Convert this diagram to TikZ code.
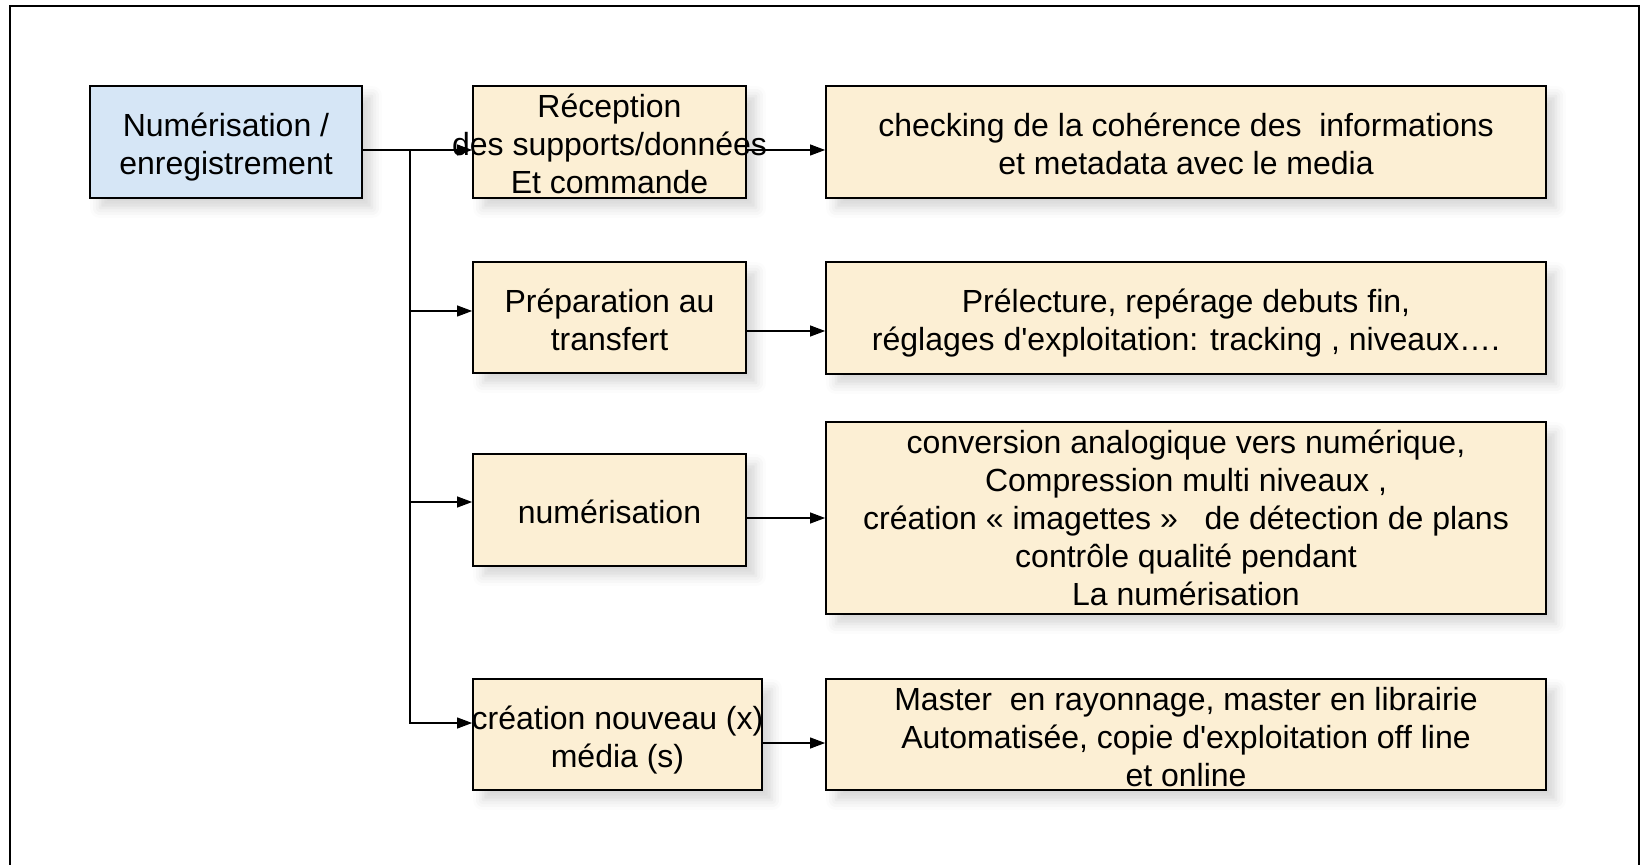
\documentclass[tikz,border=0pt]{standalone}
\usepackage{fontspec}
\setmainfont{Liberation Sans}
\usetikzlibrary{arrows.meta,shadows.blur}

\definecolor{paleblue}{RGB}{214,230,246}
\definecolor{parchment}{RGB}{252,239,212}

% struts so that every box places its lines the same way
\newcommand{\leadrule}[1][17.2pt]{\rule{0pt}{#1}}
\newcommand{\tailrule}{\rule[-3.4pt]{0pt}{3.4pt}}

\tikzset{
  box/.style={draw, line width=0.9pt, inner sep=0pt, align=center,
    font=\fontsize{16}{19}\selectfont,
    blur shadow={shadow xshift=5pt, shadow yshift=-5pt, shadow blur radius=5pt, shadow opacity=16}},
  task/.style={box, fill=parchment, minimum width=136.5pt, minimum height=56pt},
  detail/.style={box, fill=parchment, minimum width=360pt, minimum height=56pt},
  link/.style={line width=0.55pt, -{Triangle[length=7.5pt,width=5.5pt]}}
}

\begin{document}
\begin{tikzpicture}[x=0.5pt,y=-0.5pt]
\useasboundingbox (0,0) rectangle (1642,865);
\clip (0,0) rectangle (1642,865);
\draw[line width=0.85pt] (10,6) rectangle (1639,900);

% source
\node[box, fill=paleblue, minimum width=136pt, minimum height=56pt] (main) at (226,142) {\leadrule Numérisation /\\enregistrement\tailrule};

% steps
\node[task] (recv) at (609.5,142) {\leadrule[13.8pt]Réception\\\makebox[0pt]{des supports/données}\\Et commande};
\node[task, minimum height=55.5pt] (prep) at (609.5,317.5) {\leadrule Préparation au\\transfert\tailrule};
\node[task] (scan) at (609.5,510) {\leadrule numérisation\tailrule};
\node[task, minimum width=144.5pt, minimum height=55.5pt] (media) at (617.5,734.5) {\leadrule\makebox[0pt]{création nouveau (x)}\\média (s)\tailrule};

% details
\node[detail] (check) at (1186,142) {\leadrule checking de la cohérence des\ \ informations\\et metadata avec le media\tailrule};
\node[detail] (reading) at (1186,318) {\leadrule Prélecture, repérage debuts fin,\\réglages d\textquotesingle exploitation: tracking , niveaux….\tailrule};
\node[detail, minimum height=96pt] (convert) at (1186,518) {conversion analogique vers numérique,\\Compression multi niveaux ,\\création « imagettes »\ \ \ de détection de plans\\contrôle qualité pendant\\La numérisation};
\node[detail, minimum height=55.5pt] (master) at (1186,734.5) {\leadrule[13.8pt]Master\ \ en rayonnage, master en librairie\\Automatisée, copie d\textquotesingle exploitation off line\\et online};

% connectors
\coordinate (fork) at (410,150);
\draw[link] ([yshift=-4pt]main.east) -- ([yshift=-4pt]recv.west);
\draw[link] (fork) |- ([yshift=5.75pt]media.west);
\draw[link] ([yshift=3.25pt]prep.west -| fork) -- ([yshift=3.25pt]prep.west);
\draw[link] ([yshift=4pt]scan.west -| fork) -- ([yshift=4pt]scan.west);

\draw[link] ([yshift=-4pt]recv.east) -- ([yshift=-4pt]recv.east -| check.west);
\draw[link] ([yshift=-6.75pt]prep.east) -- ([yshift=-6.75pt]prep.east -| reading.west);
\draw[link] ([yshift=-4pt]scan.east) -- ([yshift=-4pt]scan.east -| convert.west);
\draw[link] ([yshift=-4.25pt]media.east) -- ([yshift=-4.25pt]media.east -| master.west);
\end{tikzpicture}
\end{document}
